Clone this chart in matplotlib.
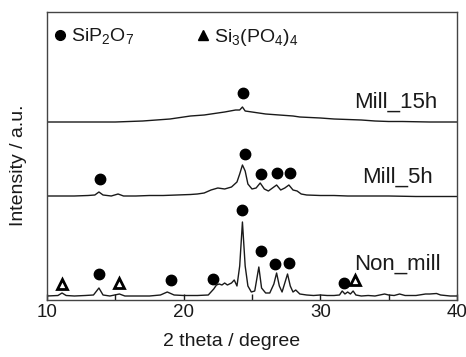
import numpy as np
import matplotlib
matplotlib.use("Agg")
import matplotlib.pyplot as plt
from matplotlib.ticker import MultipleLocator

plt.rcParams['font.family'] = ['Liberation Sans', 'DejaVu Sans']
plt.rcParams['mathtext.fontset'] = 'custom'
plt.rcParams['mathtext.rm'] = 'Liberation Sans'

# XRD patterns, intensity (a.u.) above each trace's own baseline
non_mill_x = [10.0, 10.8, 11.1, 11.4, 12.0, 12.8, 13.4, 13.8, 14.1, 14.6, 15.3, 15.7,
              16.5, 17.5, 18.3, 18.8, 19.3, 20.0, 21.0, 21.8, 22.2, 22.4, 22.6, 22.8,
              23.0, 23.2, 23.5, 23.7, 23.9, 24.1, 24.3, 24.5, 24.7, 24.95, 25.2, 25.5,
              25.7, 26.0, 26.3, 26.6, 26.8, 27.0, 27.2, 27.6, 27.8, 28.0, 28.2, 28.5,
              29.0, 29.5, 30.0, 30.5, 31.0, 31.4, 31.6, 31.8, 32.0, 32.2, 32.4, 32.6,
              33.0, 33.5, 34.0, 34.7, 35.0, 35.4, 35.8, 36.2, 37.0, 37.7, 38.0, 38.5,
              38.8, 39.5, 40.0]
non_mill_y = [0, 0.5, 3, 0.5, 0, 0.5, 1, 8, 1, 0, 2, 0,
              0, 0, 1, 4, 1, 0.5, 0.5, 1, 7, 11, 12, 11,
              13, 11, 13, 16, 10, 30, 74, 30, 10, 4, 5, 29,
              8, 3, 3, 12, 23, 10, 4, 22, 10, 4, 6, 2,
              1, 0.5, 1, 0.5, 0.5, 1, 5, 2, 4, 2, 5, 1,
              0, 0.5, 0, 2, 1, 0.5, 2, 0.5, 0.5, 2, 2, 2.5,
              1, 0, 0]

mill5_x = [10.0, 11.0, 12.0, 13.0, 13.5, 13.8, 14.1, 14.7, 15.2, 15.6, 16.5, 17.5,
           18.5, 19.5, 20.5, 21.0, 21.5, 22.0, 22.5, 23.0, 23.5, 23.9, 24.1, 24.3,
           24.5, 24.7, 25.0, 25.3, 25.6, 25.9, 26.2, 26.5, 26.8, 27.1, 27.4, 27.7,
           28.0, 28.3, 28.6, 29.0, 30.0, 31.0, 32.0, 33.0, 35.0, 37.0, 40.0]
mill5_y = [0, 0, 0, 0.5, 1, 4, 1, 0, 2, 0, 0, 0.5,
           0.5, 1, 1.5, 2, 3, 6, 8, 7, 9, 14, 22, 31,
           25, 12, 7, 8, 13, 7, 5, 8, 11, 6, 8, 11,
           6, 5, 2, 1, 0.5, 0.5, 0, 0, 0, -0.5, -0.5]

mill15_x = [10.0, 12.0, 14.0, 15.0, 16.0, 17.0, 18.0, 19.0, 20.5, 21.5, 22.0, 23.0,
            23.8, 24.1, 24.3, 24.5, 25.0, 26.0, 27.0, 28.0, 28.5, 30.0, 31.0, 32.0,
            33.0, 34.0, 35.0, 36.0, 38.0, 40.0]
mill15_y = [0, 0, 0, 0, 0.5, 1, 2, 3, 6, 7, 8, 10,
            12, 12, 15, 11, 10, 8, 7, 6, 5, 4, 3, 2.5,
            2, 1, 0.5, 0.5, 0, 0]

# peak markers (2 theta, height of marker)
non_mill_circ_x = [13.80, 19.07, 22.15, 24.27, 25.66, 26.68, 27.71, 31.73]
non_mill_circ_y = [26, 20, 21, 90, 49, 36, 37, 17]
non_mill_tri_x = [11.10, 15.27, 32.54]
non_mill_tri_y = [16, 17, 20]
mill5_circ_x = [13.88, 24.49, 25.66, 26.83, 27.78]
mill5_circ_y = [121, 146, 126, 127, 127]
mill15_circ_x = [24.34]
mill15_circ_y = [207]

offsets = {"Non_mill": 4, "Mill_5h": 104, "Mill_15h": 178}

fig = plt.figure(figsize=(4.66, 3.57), dpi=100)
ax = fig.add_axes([47/466, 57/357, 410/466, 288/357])

ink = '#1a1a1a'
ax.plot(non_mill_x, np.array(non_mill_y) + offsets["Non_mill"], color=ink, lw=1)
ax.plot(mill5_x, np.array(mill5_y) + offsets["Mill_5h"], color=ink, lw=1)
ax.plot(mill15_x, np.array(mill15_y) + offsets["Mill_15h"], color=ink, lw=1)

circ = dict(marker='o', ls='none', color='black', ms=7.5)
tri = dict(marker='^', ls='none', mfc='white', mec='black', mew=2, ms=7)
ax.plot(non_mill_circ_x, non_mill_circ_y, **circ)
ax.plot(mill5_circ_x, mill5_circ_y, **circ)
ax.plot(mill15_circ_x, mill15_circ_y, **circ)
ax.plot(non_mill_tri_x, non_mill_tri_y, **tri)

# legend drawn by hand like the original
ax.plot([10.95], [265], marker='o', color='black', ms=7)
ax.text(11.75, 258, r'SiP$_\mathregular{2}$O$_\mathregular{7}$', fontsize=14, color=ink)
ax.plot([21.38], [265], marker='^', color='black', ms=6.5)
ax.text(22.2, 258, r'Si$_\mathregular{3}$(PO$_\mathregular{4}$)$_\mathregular{4}$',
        fontsize=14, color=ink)

ax.text(38.55, 192, 'Mill_15h', fontsize=16, ha='right', color=ink)
ax.text(38.2, 117, 'Mill_5h', fontsize=16, ha='right', color=ink)
ax.text(38.8, 30, 'Non_mill', fontsize=16, ha='right', color=ink)

ax.set_xlim(10, 40)
ax.set_ylim(0, 288)
ax.xaxis.set_major_locator(MultipleLocator(10))
ax.xaxis.set_minor_locator(MultipleLocator(5))
ax.tick_params(axis='x', which='both', direction='in', length=4, width=1, pad=3,
               labelsize=13.5, colors=ink)
ax.set_yticks([])
for s in ax.spines.values():
    s.set_color('#444444')
    s.set_linewidth(1)

ax.set_xlabel('2 theta / degree', fontsize=14, color=ink)
ax.xaxis.set_label_coords(0.451, -0.115)
fig.text(19/466, 1 - 165/357, 'Intensity / a.u.', rotation=90, fontsize=14,
         ha='center', va='center', color=ink)

fig.savefig('out.png', dpi=100)
